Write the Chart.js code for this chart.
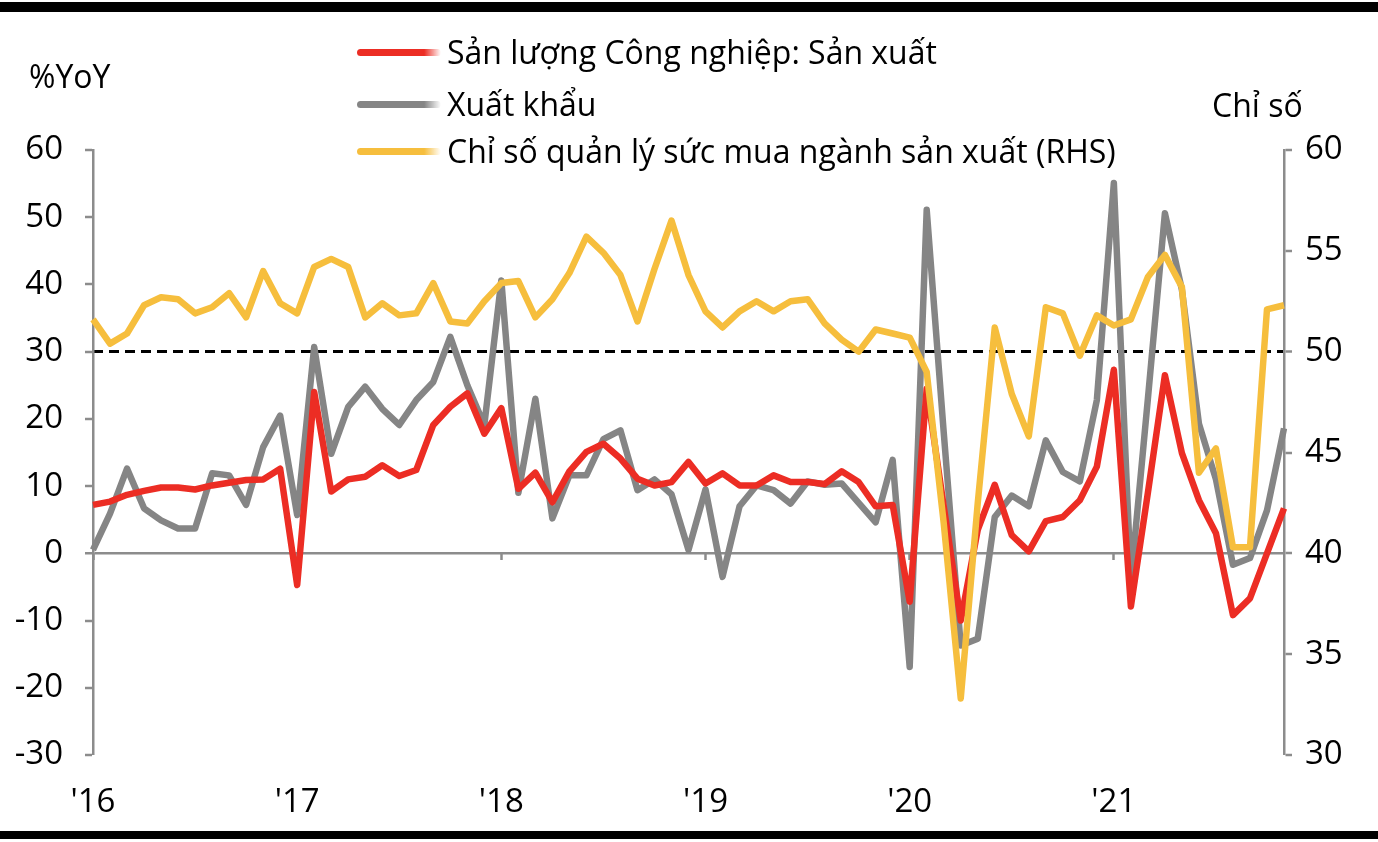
<!DOCTYPE html>
<html><head><meta charset="utf-8">
<script src="https://cdn.jsdelivr.net/npm/chart.js@4.4.1/dist/chart.umd.min.js"></script>
<style>
html,body{margin:0;padding:0;background:#fff;}
#wrap{position:relative;width:1378px;height:842px;overflow:hidden;font-family:"Open Sans",sans-serif;color:#000;}
#c{position:absolute;left:0;top:0;}
.bar{position:absolute;left:0;width:1378px;background:#000;}
.txt{position:absolute;font-size:32px;line-height:1;white-space:nowrap;}
.leg{position:absolute;left:357px;font-size:32px;line-height:1;white-space:nowrap;display:flex;align-items:center;height:36px;}
.sw{display:inline-block;width:84px;height:7px;border-radius:4px;margin-right:6px;}
</style></head>
<body><div id="wrap">
<canvas id="c" width="1378" height="842"></canvas>
<div class="bar" style="top:2px;height:10px"></div>
<div class="bar" style="top:831px;height:8px"></div>
<div class="txt" style="left:29px;top:60px">%YoY</div>
<div class="txt" style="left:1212px;top:89px">Chỉ số</div>
<div id="legend"></div>
</div>
<script>
const months = [
"2016-01","2016-02","2016-03","2016-04","2016-05","2016-06","2016-07","2016-08","2016-09","2016-10","2016-11","2016-12",
"2017-01","2017-02","2017-03","2017-04","2017-05","2017-06","2017-07","2017-08","2017-09","2017-10","2017-11","2017-12",
"2018-01","2018-02","2018-03","2018-04","2018-05","2018-06","2018-07","2018-08","2018-09","2018-10","2018-11","2018-12",
"2019-01","2019-02","2019-03","2019-04","2019-05","2019-06","2019-07","2019-08","2019-09","2019-10","2019-11","2019-12",
"2020-01","2020-02","2020-03","2020-04","2020-05","2020-06","2020-07","2020-08","2020-09","2020-10","2020-11","2020-12",
"2021-01","2021-02","2021-03","2021-04","2021-05","2021-06","2021-07","2021-08","2021-09","2021-10","2021-11"];

const yearTickMonths = ["2016-01","2017-01","2018-01","2019-01","2020-01","2021-01"];
const yearTickLabels = ["'16","'17","'18","'19","'20","'21"];

const seriesNames = ["Sản lượng Công nghiệp: Sản xuất","Xuất khẩu","Chỉ số quản lý sức mua ngành sản xuất (RHS)"];

// Industrial production: manufacturing, %YoY (left axis)
const industrialProduction = [
7.2,7.7,8.7,9.3,9.8,9.8,9.5,10.1,10.5,10.9,11.0,12.6,
-4.7,24.0,9.2,11.0,11.4,13.1,11.5,12.4,19.1,21.8,23.8,17.8,
21.6,9.6,12.0,7.6,12.2,15.1,16.3,14.1,11.1,10.1,10.6,13.6,
10.4,11.9,10.1,10.1,11.6,10.6,10.6,10.3,12.2,10.6,7.0,7.2,
-7.2,24.5,7.0,-10.0,3.5,10.2,2.7,0.3,4.8,5.4,7.9,12.9,
27.3,-7.9,9.0,26.5,14.9,7.9,3.0,-9.2,-6.7,0.0,6.7];

// Exports, %YoY (left axis)
const exportsYoY = [
0.5,5.9,12.6,6.7,4.9,3.7,3.7,11.9,11.6,7.2,15.8,20.5,
5.7,30.7,14.8,21.8,24.8,21.5,19.1,22.8,25.5,32.2,25.0,19.1,
40.6,9.0,23.0,5.2,11.6,11.6,17.0,18.3,9.4,11.0,8.8,0.5,
9.5,-3.5,7.0,10.1,9.4,7.4,10.7,10.2,10.4,7.5,4.6,13.9,
-16.9,51.1,18.0,-13.7,-12.7,5.4,8.6,7.0,16.8,12.1,10.7,22.8,
55.1,-4.0,23.0,50.6,39.2,19.3,11.0,-1.7,-0.7,6.4,18.6];

// Manufacturing PMI, index (right axis)
const pmi = [
51.6,50.4,50.9,52.3,52.7,52.6,51.9,52.2,52.9,51.7,54.0,52.4,
51.9,54.2,54.6,54.2,51.7,52.4,51.8,51.9,53.4,51.5,51.4,52.5,
53.4,53.5,51.7,52.6,53.9,55.7,54.9,53.8,51.5,54.1,56.5,53.8,
52.0,51.2,52.0,52.5,52.0,52.5,52.6,51.4,50.6,50.0,51.1,50.9,
50.7,49.0,41.5,32.8,42.5,51.2,47.9,45.8,52.2,51.9,49.8,51.8,
51.3,51.6,53.7,54.8,53.2,44.0,45.2,40.3,40.3,52.1,52.3];

const leftTicks = {min:-30, max:60, step:10};
const rightTicks = {min:30, max:60, step:5};
const pmiThreshold = 50;

const RED = "#EC2D24", GREY = "#858585", YELLOW = "#F6BE3D", AXIS = "#8c8c8c";
const FONT = "'Open Sans', sans-serif";
const TICK_FONT = {family: FONT, size: 33};

// HTML legend
const legColors = [RED, GREY, YELLOW];
const legTops = [34, 86, 133];
const legEl = document.getElementById('legend');
seriesNames.forEach((n, i) => {
  const d = document.createElement('div');
  d.className = 'leg';
  d.style.top = legTops[i] + 'px';
  d.innerHTML = '<span class="sw" style="background:linear-gradient(90deg,' + legColors[i] + ' 80%, rgba(255,255,255,0.6))"></span><span></span>';
  d.lastChild.textContent = n;
  legEl.appendChild(d);
});

new Chart(document.getElementById('c'), {
  type: 'line',
  data: {
    labels: months,
    datasets: [
      {label: seriesNames[0], data: industrialProduction, yAxisID: 'y', borderColor: RED, order: 2},
      {label: seriesNames[1], data: exportsYoY, yAxisID: 'y', borderColor: GREY, order: 3},
      {label: seriesNames[2], data: pmi, yAxisID: 'y2', borderColor: YELLOW, order: 1}
    ]
  },
  options: {
    responsive: false,
    animation: false,
    devicePixelRatio: 1,
    layout: {padding: {top: 150, left: 0, right: 0, bottom: 0}},
    elements: {
      line: {borderWidth: 6.5, tension: 0, borderJoinStyle: 'round', borderCapStyle: 'butt', fill: false},
      point: {radius: 0, hoverRadius: 0}
    },
    plugins: {legend: {display: false}, tooltip: {enabled: false}},
    scales: {
      x: {
        type: 'category',
        position: 'bottom',
        offset: false,
        afterFit: s => { s.height = 87; },
        grid: {display: false, drawTicks: false},
        border: {display: false},
        ticks: {
          autoSkip: false, maxRotation: 0, minRotation: 0, padding: 28,
          color: '#000', font: TICK_FONT,
          callback: (v, i) => { const k = yearTickMonths.indexOf(months[i]); return k >= 0 ? yearTickLabels[k] : ''; }
        }
      },
      xz: {
        type: 'category',
        position: {y: 0},
        offset: false,
        grid: {
          drawOnChartArea: false, drawTicks: true, tickLength: 7, tickWidth: 2.5,
          color: c => (yearTickMonths.indexOf(months[c.index]) >= 0 ? AXIS : 'rgba(0,0,0,0)'),
          tickColor: c => (yearTickMonths.indexOf(months[c.index]) >= 0 ? AXIS : 'rgba(0,0,0,0)')
        },
        border: {display: false},
        ticks: {display: false}
      },
      y: {
        position: 'left',
        min: leftTicks.min, max: leftTicks.max,
        afterFit: s => { s.width = 93; },
        ticks: {stepSize: leftTicks.step, padding: 22, color: '#000', font: TICK_FONT},
        grid: {
          drawOnChartArea: true, drawTicks: true, tickLength: 8, tickWidth: 2.5, tickColor: AXIS,
          color: c => (c.tick && c.tick.value === 0 ? AXIS : 'rgba(0,0,0,0)'),
          lineWidth: c => (c.tick && c.tick.value === 0 ? 2.5 : 0)
        },
        border: {display: true, color: AXIS, width: 2.5}
      },
      y2: {
        position: 'right',
        min: rightTicks.min, max: rightTicks.max,
        afterFit: s => { s.width = 94; },
        ticks: {stepSize: rightTicks.step, padding: 13, color: '#000', font: TICK_FONT},
        grid: {
          drawOnChartArea: true, drawTicks: true, tickLength: 8, tickWidth: 2.5, tickColor: AXIS,
          color: c => (c.tick && c.tick.value === pmiThreshold ? '#000' : 'rgba(0,0,0,0)'),
          lineWidth: c => (c.tick && c.tick.value === pmiThreshold ? 3 : 0)
        },
        border: {
          display: true, color: AXIS, width: 2.5,
          dash: c => (c.tick && c.tick.value === pmiThreshold ? [10, 6] : [])
        }
      }
    }
  }
});
</script>
</body></html>
